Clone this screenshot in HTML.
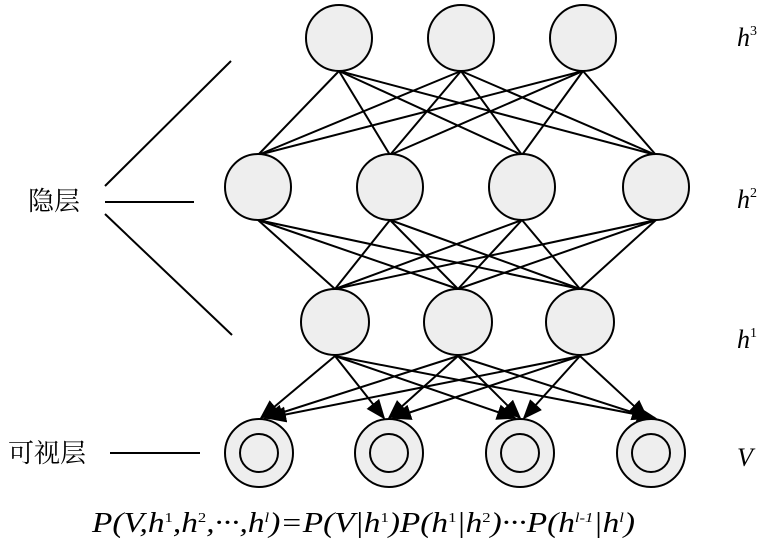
<!DOCTYPE html>
<html><head><meta charset="utf-8"><style>
body{margin:0;background:#fff;width:768px;height:540px;overflow:hidden}
</style></head><body>
<svg width="768" height="540" xmlns="http://www.w3.org/2000/svg">
<defs>
<marker id="b" markerWidth="20" markerHeight="20" refX="18" refY="10" orient="auto" markerUnits="userSpaceOnUse" viewBox="0 0 20 20"><path d="M0,2 L20,10 L0,18z" fill="#000"/></marker></defs>
<g stroke="#000" stroke-width="2" fill="none">
<line x1="339" y1="71" x2="258" y2="155"/><line x1="339" y1="71" x2="390" y2="155"/><line x1="339" y1="71" x2="522" y2="155"/><line x1="339" y1="71" x2="656" y2="155"/>
<line x1="461" y1="71" x2="258" y2="155"/><line x1="461" y1="71" x2="390" y2="155"/><line x1="461" y1="71" x2="522" y2="155"/><line x1="461" y1="71" x2="656" y2="155"/>
<line x1="583" y1="71" x2="258" y2="155"/><line x1="583" y1="71" x2="390" y2="155"/><line x1="583" y1="71" x2="522" y2="155"/><line x1="583" y1="71" x2="656" y2="155"/>
<line x1="258" y1="220" x2="335" y2="289"/><line x1="258" y1="220" x2="458" y2="289"/><line x1="258" y1="220" x2="580" y2="289"/>
<line x1="390" y1="220" x2="335" y2="289"/><line x1="390" y1="220" x2="458" y2="289"/><line x1="390" y1="220" x2="580" y2="289"/>
<line x1="522" y1="220" x2="335" y2="289"/><line x1="522" y1="220" x2="458" y2="289"/><line x1="522" y1="220" x2="580" y2="289"/>
<line x1="656" y1="220" x2="335" y2="289"/><line x1="656" y1="220" x2="458" y2="289"/><line x1="656" y1="220" x2="580" y2="289"/>
<g marker-end="url(#b)">
<line x1="335" y1="356" x2="261" y2="418"/><line x1="335" y1="356" x2="384" y2="418"/><line x1="335" y1="356" x2="515" y2="418"/><line x1="335" y1="356" x2="655" y2="418"/>
<line x1="458" y1="356" x2="265" y2="418"/><line x1="458" y1="356" x2="389" y2="418"/><line x1="458" y1="356" x2="520" y2="418"/><line x1="458" y1="356" x2="650" y2="418"/>
<line x1="580" y1="356" x2="268" y2="418"/><line x1="580" y1="356" x2="393" y2="418"/><line x1="580" y1="356" x2="524" y2="418"/><line x1="580" y1="356" x2="647" y2="418"/>
</g>
<line x1="105" y1="186" x2="231" y2="61"/><line x1="105" y1="202" x2="194" y2="202"/><line x1="105" y1="214" x2="232" y2="335"/>
<line x1="110" y1="453" x2="200" y2="453"/>
</g>
<g stroke="#000" stroke-width="2" fill="#eee">
<ellipse cx="339" cy="38" rx="33" ry="33"/><ellipse cx="461" cy="38" rx="33" ry="33"/><ellipse cx="583" cy="38" rx="33" ry="33"/>
<ellipse cx="258" cy="187" rx="33" ry="33"/><ellipse cx="390" cy="187" rx="33" ry="33"/><ellipse cx="522" cy="187" rx="33" ry="33"/><ellipse cx="656" cy="187" rx="33" ry="33"/>
<ellipse cx="335" cy="322" rx="34" ry="33"/><ellipse cx="458" cy="322" rx="34" ry="33"/><ellipse cx="580" cy="322" rx="34" ry="33"/>
<circle cx="259" cy="453" r="34"/><circle cx="389" cy="453" r="34"/><circle cx="520" cy="453" r="34"/><circle cx="651" cy="453" r="34"/>
<circle cx="259" cy="453" r="19"/><circle cx="389" cy="453" r="19"/><circle cx="520" cy="453" r="19"/><circle cx="651" cy="453" r="19"/>
</g>
<g font-family="Liberation Serif, serif" font-style="italic" font-size="26">
<text x="737" y="46">h<tspan font-size="14" dy="-11" font-style="normal">3</tspan></text>
<text x="737" y="208">h<tspan font-size="14" dy="-11" font-style="normal">2</tspan></text>
<text x="737" y="348">h<tspan font-size="14" dy="-11" font-style="normal">1</tspan></text>
<text x="737" y="466">V</text>
</g>
<g font-family="Liberation Serif, 'Noto Serif CJK SC', serif" font-size="26">
<text x="28" y="210">隐层</text>
<text x="8" y="462">可视层</text>
</g>
<text x="92" y="532" font-family="Liberation Serif, serif" font-size="28" font-style="italic" textLength="543" lengthAdjust="spacingAndGlyphs">P(V,h<tspan font-size="14" dy="-10" font-style="normal">1</tspan><tspan dy="10">,h</tspan><tspan font-size="14" dy="-10" font-style="normal">2</tspan><tspan dy="10">,···,h</tspan><tspan font-size="14" dy="-10">l</tspan><tspan dy="10">)=P(V|h</tspan><tspan font-size="14" dy="-10" font-style="normal">1</tspan><tspan dy="10">)P(h</tspan><tspan font-size="14" dy="-10" font-style="normal">1</tspan><tspan dy="10">|h</tspan><tspan font-size="14" dy="-10" font-style="normal">2</tspan><tspan dy="10">)···P(h</tspan><tspan font-size="14" dy="-10">l-1</tspan><tspan dy="10">|h</tspan><tspan font-size="14" dy="-10">l</tspan><tspan dy="10">)</tspan></text>
</svg>
</body></html>
